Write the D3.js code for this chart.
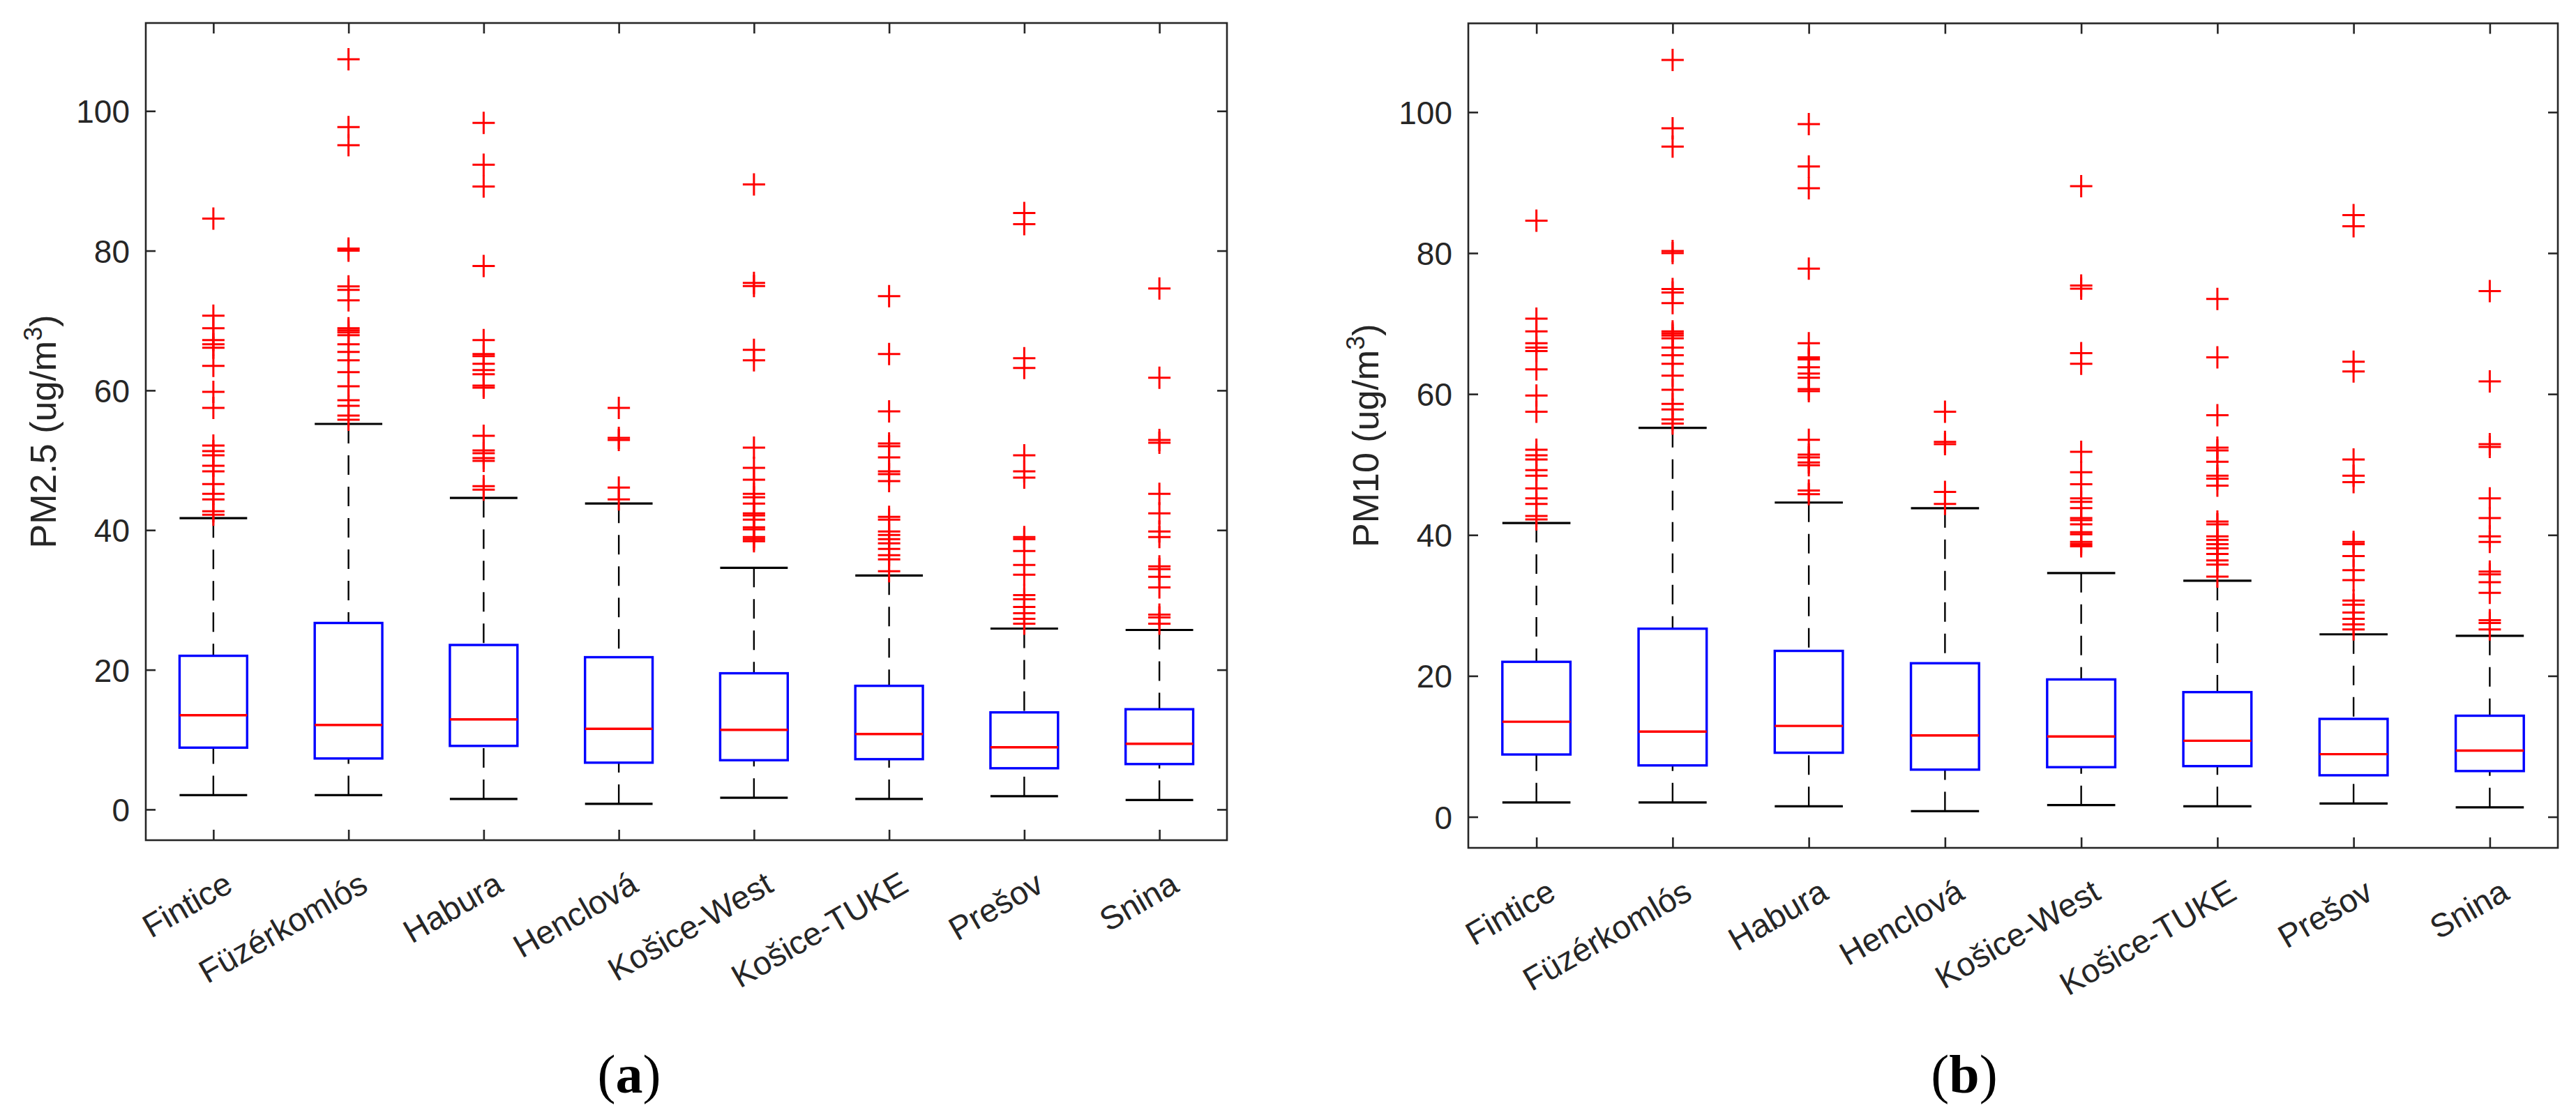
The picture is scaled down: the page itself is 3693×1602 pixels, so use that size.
<!DOCTYPE html>
<html>
<head>
<meta charset="utf-8">
<style>
    body { margin: 0; background: #fff; }
    svg text { font-family: "Liberation Sans", Arial, sans-serif; fill: #262626; }
    .frame { fill: none; stroke: #262626; stroke-width: 2.6px; }
    .tick line { stroke: #262626; stroke-width: 2.6px; }
    .domain { display: none; }
    .whisker { stroke: #000; stroke-width: 2.4px; stroke-dasharray: 28, 17; }
    .cap { stroke: #000; stroke-width: 3.2px; }
    .box { fill: none; stroke: #0000ff; stroke-width: 3.4px; }
    .median { stroke: #ff0000; stroke-width: 3.4px; }
    .outlier { fill: none; stroke: #ff0000; stroke-width: 3px; }
    .caption { font-family: "Liberation Serif", "Times New Roman", serif; fill: #000; }
</style>
</head>
<body>
<svg width="3693" height="1602"></svg>
<script src="https://cdnjs.cloudflare.com/ajax/libs/d3/7.8.5/d3.min.js"></script>
<script>

    // monitoring stations
    var categories = ["Fintice", "Füzérkomlós", "Habura", "Henclová", "Košice-West", "Košice-TUKE", "Prešov", "Snina"];

    // box statistics (ug/m3); panel (b) shows the same values
    var q1 = [8.85, 7.3, 9.1, 6.7, 7.05, 7.2, 5.9, 6.5];
    var medians = [13.5, 12.1, 12.9, 11.55, 11.4, 10.8, 8.9, 9.4];
    var q3 = [22.0, 26.7, 23.55, 21.8, 19.5, 17.7, 13.9, 14.35];
    var whiskerLow = [2.05, 2.05, 1.5, 0.8, 1.67, 1.5, 1.9, 1.36];
    var whiskerHigh = [41.7, 55.2, 44.6, 43.8, 34.6, 33.5, 25.9, 25.7];

    var outliers = [
        [84.6, 70.7, 68.9, 67.2, 66.6, 66.1, 63.5, 59.8, 57.5, 52.1, 51.3, 50.7, 49.2, 48.4, 46.6, 45.2, 44.4, 42.7, 42.2],
        [107.4, 97.7, 95.1, 80.3, 80.0, 74.9, 74.4, 72.9, 68.9, 68.6, 68.3, 67.9, 66.6, 65.5, 64.3, 62.6, 60.6, 58.6, 57.8, 56.4, 55.8],
        [98.3, 92.3, 89.2, 77.8, 67.2, 65.2, 64.9, 63.8, 62.9, 62.3, 60.7, 60.4, 53.5, 51.4, 51.0, 50.3, 49.9, 46.3, 45.8],
        [57.5, 53.2, 52.9, 46.1, 44.4],
        [89.5, 75.4, 74.95, 65.8, 64.3, 51.8, 48.9, 47.2, 45.2, 44.7, 43.8, 42.4, 42.1, 41.5, 40.4, 40.1, 39.0, 38.7, 38.4],
        [73.5, 65.2, 57.0, 52.4, 52.0, 50.4, 48.4, 48.0, 47.0, 41.9, 41.5, 39.8, 39.3, 38.7, 38.1, 37.3, 36.4, 35.8, 34.1],
        [85.4, 83.8, 64.6, 63.2, 50.7, 48.4, 47.5, 39.0, 38.7, 37.0, 35.0, 33.6, 30.7, 30.1, 29.0, 28.1, 27.3, 26.6],
        [74.6, 61.8, 52.9, 52.5, 45.2, 42.4, 39.8, 39.0, 34.8, 34.4, 33.3, 31.8, 27.9, 27.5, 26.6]
    ];

    var yTicks = [0, 20, 40, 60, 80, 100];
    var yDomain = [-4.4, 112.6];

    var panels = [
        { left: 209, right: 1759, top: 33, bottom: 1205, label: "PM2.5 (ug/m", labelX: 80, caption: "a", captionX: 902 },
        { left: 2105, right: 3667, top: 33.5, bottom: 1216, label: "PM10 (ug/m", labelX: 1976, caption: "b", captionX: 2816 }
    ];

    var svg = d3.select("svg");

    panels.forEach(drawPanel);

    function drawPanel(p) {
        var g = svg.append("g");

        var x = d3.scalePoint().domain(categories).range([p.left, p.right]).padding(0.5),
            y = d3.scaleLinear().domain(yDomain).range([p.bottom, p.top]),
            boxW = x.step() * 0.5;

        // axes, ticks pointing inward on all four sides
        g.append("g").attr("transform", "translate(" + p.left + ",0)")
            .call(d3.axisLeft(y).tickValues(yTicks).tickSize(-14).tickPadding(23))
            .selectAll("text").style("font-size", "46px").attr("dy", "0.36em");
        g.append("g").attr("transform", "translate(" + p.right + ",0)")
            .call(d3.axisRight(y).tickValues(yTicks).tickSize(-14).tickFormat(""));
        g.append("g").attr("transform", "translate(0," + p.top + ")")
            .call(d3.axisTop(x).tickSize(-15).tickFormat(""));

        var xAxis = g.append("g").attr("transform", "translate(0," + p.bottom + ")")
            .call(d3.axisBottom(x).tickSize(-15));
        xAxis.selectAll("text")
            .style("font-size", "47px")
            .attr("x", 0).attr("y", 0).attr("dy", 0)
            .attr("text-anchor", "end")
            .attr("transform", "translate(30,72) rotate(-30)");

        g.append("rect").attr("class", "frame")
            .attr("x", p.left).attr("y", p.top)
            .attr("width", p.right - p.left).attr("height", p.bottom - p.top);

        var idx = d3.range(categories.length);

        // dashed whiskers
        g.selectAll(".wlo").data(idx).enter().append("line").attr("class", "whisker")
            .attr("x1", function (i) { return x(categories[i]); })
            .attr("x2", function (i) { return x(categories[i]); })
            .attr("y1", function (i) { return y(whiskerLow[i]); })
            .attr("y2", function (i) { return y(q1[i]); });
        g.selectAll(".whi").data(idx).enter().append("line").attr("class", "whisker")
            .attr("x1", function (i) { return x(categories[i]); })
            .attr("x2", function (i) { return x(categories[i]); })
            .attr("y1", function (i) { return y(whiskerHigh[i]); })
            .attr("y2", function (i) { return y(q3[i]); });

        // whisker caps
        [whiskerLow, whiskerHigh].forEach(function (arr) {
            g.append("g").selectAll("line").data(idx).enter().append("line").attr("class", "cap")
                .attr("x1", function (i) { return x(categories[i]) - boxW / 2; })
                .attr("x2", function (i) { return x(categories[i]) + boxW / 2; })
                .attr("y1", function (i) { return y(arr[i]); })
                .attr("y2", function (i) { return y(arr[i]); });
        });

        g.selectAll(".box").data(idx).enter().append("rect").attr("class", "box")
            .attr("x", function (i) { return x(categories[i]) - boxW / 2; })
            .attr("y", function (i) { return y(q3[i]); })
            .attr("width", boxW)
            .attr("height", function (i) { return y(q1[i]) - y(q3[i]); });

        g.selectAll(".median").data(idx).enter().append("line").attr("class", "median")
            .attr("x1", function (i) { return x(categories[i]) - boxW / 2; })
            .attr("x2", function (i) { return x(categories[i]) + boxW / 2; })
            .attr("y1", function (i) { return y(medians[i]); })
            .attr("y2", function (i) { return y(medians[i]); });

        // outliers as '+' markers
        var pts = [];
        outliers.forEach(function (arr, i) {
            arr.forEach(function (v) { pts.push({ c: categories[i], v: v }); });
        });
        g.selectAll(".outlier").data(pts).enter().append("path").attr("class", "outlier")
            .attr("transform", function (d) { return "translate(" + x(d.c) + "," + y(d.v) + ")"; })
            .attr("d", "M-16,0H16M0,-16V16");

        // y label with superscript
        var cy = (p.top + p.bottom) / 2;
        var lab = g.append("text")
            .attr("transform", "translate(" + p.labelX + "," + cy + ") rotate(-90)")
            .attr("text-anchor", "middle")
            .style("font-size", "52px");
        lab.append("tspan").text(p.label);
        lab.append("tspan").attr("dy", -20).style("font-size", "36px").text("3");
        lab.append("tspan").attr("dy", 20).text(")");

        var cap = svg.append("text").attr("class", "caption")
            .attr("x", p.captionX).attr("y", 1567)
            .attr("text-anchor", "middle")
            .style("font-size", "78px");
        cap.append("tspan").text("(");
        cap.append("tspan").style("font-weight", "bold").text(p.caption);
        cap.append("tspan").text(")");
    }

</script>
</body>
</html>
